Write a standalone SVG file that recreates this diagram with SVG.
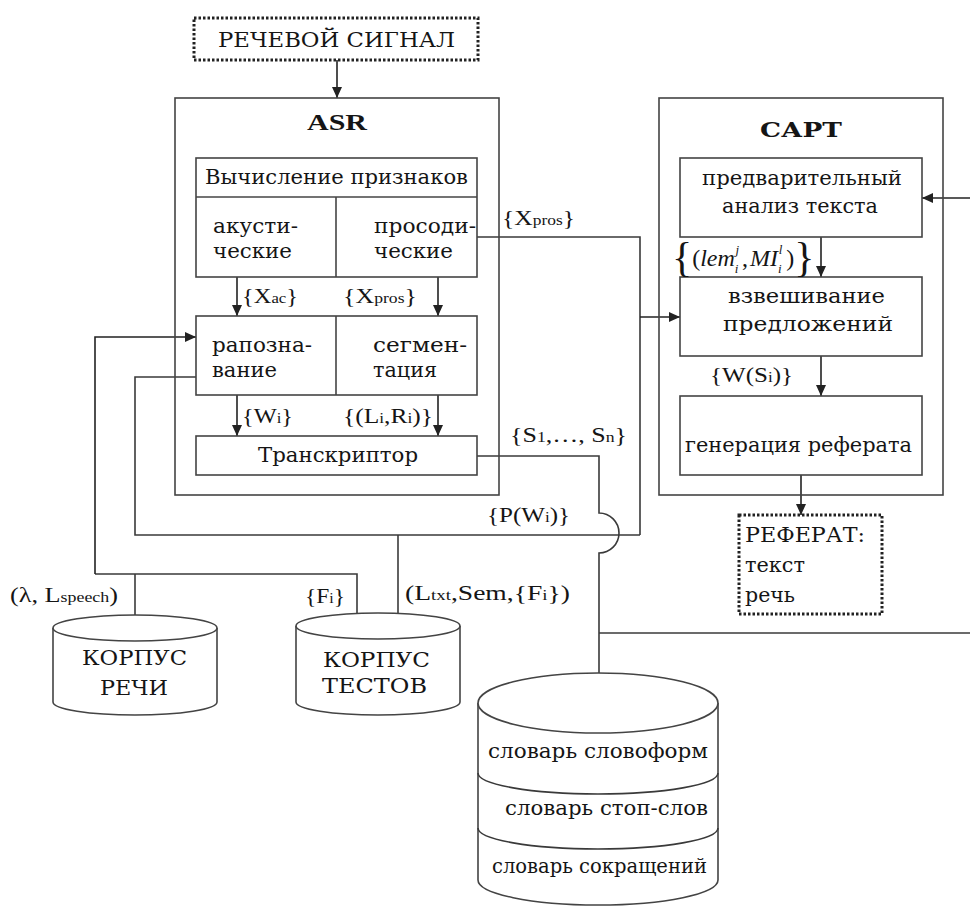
<svg xmlns="http://www.w3.org/2000/svg" width="970" height="907" viewBox="0 0 970 907" font-family="'Liberation Serif', 'Times New Roman', serif">
<defs>
<marker id="ah" markerUnits="userSpaceOnUse" markerWidth="12" markerHeight="10" refX="11" refY="5" orient="auto"><path d="M0,0 L11,5 L0,10 z" fill="#222"/></marker>
<style>
text{font-family:'Liberation Serif','DejaVu Serif',serif;fill:#151515;font-size:24px}
.cy{font-family:'DejaVu Serif','Liberation Serif',serif;font-size:21px}
.b{font-weight:bold}
.s{font-size:22px}
.sub{font-size:15px}
.it{font-style:italic}
.box{fill:none;stroke:#444;stroke-width:1.6}
.dot{fill:none;stroke:#222;stroke-width:3;stroke-dasharray:2.5 2}
.ln{fill:none;stroke:#3a3a3a;stroke-width:1.6}
.arr{fill:none;stroke:#222;stroke-width:1.6;marker-end:url(#ah)}
.cyl{fill:#fff;stroke:#444;stroke-width:1.6}
</style>
</defs>
<rect width="970" height="907" fill="#fff"/>

<g id="connectors">
<line class="arr" x1="337" y1="60" x2="337" y2="98"/>
<line class="arr" x1="237" y1="277" x2="237" y2="316"/>
<line class="arr" x1="438" y1="277" x2="438" y2="316"/>
<line class="arr" x1="237" y1="395" x2="237" y2="436"/>
<line class="arr" x1="438" y1="395" x2="438" y2="436"/>
<polyline class="ln" points="477,237 640,237 640,535"/>
<line class="arr" x1="640" y1="317" x2="680" y2="317"/>
<polyline class="ln" points="640,535 135,535 135,377 196,377"/>
<line class="ln" x1="398" y1="535" x2="398" y2="614"/>
<line class="ln" x1="135" y1="615" x2="135" y2="574"/>
<polyline class="ln" points="95,574 357,574 357,614"/>
<polyline class="arr" points="95,574 95,337 196,337"/>
<path class="ln" d="M477,456 L599,456 L599,513 A20,20 0 0 1 599,553 L599,673"/>
<line class="ln" x1="599" y1="633" x2="970" y2="633"/>
<line class="arr" x1="970" y1="198" x2="922" y2="198"/>
<line class="arr" x1="821" y1="237" x2="821" y2="277"/>
<line class="arr" x1="821" y1="356" x2="821" y2="396"/>
<line class="arr" x1="801" y1="475" x2="801" y2="515"/>
</g>

<g id="speech-signal">
<rect class="dot" x="194" y="18" width="284" height="42"/>
<text class="cy" x="218" y="47" font-size="22" textLength="237" lengthAdjust="spacingAndGlyphs">РЕЧЕВОЙ СИГНАЛ</text>
</g>

<g id="asr">
<rect class="box" x="175" y="98" width="324" height="397"/>
<text class="b" x="307" y="130" font-size="29" textLength="60" lengthAdjust="spacingAndGlyphs">ASR</text>
</g>

<g id="features">
<rect class="box" x="196" y="158" width="281" height="119"/>
<line class="box" x1="196" y1="197" x2="477" y2="197"/>
<line class="box" x1="336" y1="197" x2="336" y2="277"/>
<text class="cy" x="205" y="184" textLength="263" lengthAdjust="spacingAndGlyphs">Вычисление признаков</text>
<text class="cy" x="213" y="233" textLength="85" lengthAdjust="spacingAndGlyphs">акусти-</text>
<text class="cy" x="213" y="258" textLength="79" lengthAdjust="spacingAndGlyphs">ческие</text>
<text class="cy" x="374" y="233" textLength="102" lengthAdjust="spacingAndGlyphs">просоди-</text>
<text class="cy" x="374" y="258" textLength="79" lengthAdjust="spacingAndGlyphs">ческие</text>
</g>

<g id="recognition">
<rect class="box" x="196" y="316" width="281" height="79"/>
<line class="box" x1="336" y1="316" x2="336" y2="395"/>
<text class="cy" x="212" y="352" textLength="100" lengthAdjust="spacingAndGlyphs">рапозна-</text>
<text class="cy" x="212" y="377" textLength="65" lengthAdjust="spacingAndGlyphs">вание</text>
<text class="cy" x="373" y="352" textLength="94" lengthAdjust="spacingAndGlyphs">сегмен-</text>
<text class="cy" x="373" y="377" textLength="64" lengthAdjust="spacingAndGlyphs">тация</text>
</g>

<g id="transcriptor">
<rect class="box" x="196" y="436" width="281" height="39"/>
<text class="cy" x="258" y="462" textLength="160" lengthAdjust="spacingAndGlyphs">Транскриптор</text>
</g>

<g id="capt">
<rect class="box" x="659" y="98" width="284" height="397"/>
<text class="cy b" x="760" y="137" font-size="27" textLength="82" lengthAdjust="spacingAndGlyphs">САРТ</text>
</g>

<g id="preanalysis">
<rect class="box" x="680" y="158" width="242" height="79"/>
<text class="cy" x="702" y="185" textLength="200" lengthAdjust="spacingAndGlyphs">предварительный</text>
<text class="cy" x="722" y="213" textLength="156" lengthAdjust="spacingAndGlyphs">анализ текста</text>
</g>

<g id="weighting">
<rect class="box" x="680" y="277" width="242" height="79"/>
<text class="cy" x="728" y="303" textLength="157" lengthAdjust="spacingAndGlyphs">взвешивание</text>
<text class="cy" x="723" y="331" textLength="170" lengthAdjust="spacingAndGlyphs">предложений</text>
</g>

<g id="generation">
<rect class="box" x="680" y="396" width="242" height="79"/>
<text class="cy" x="685" y="452" textLength="227" lengthAdjust="spacingAndGlyphs">генерация реферата</text>
</g>

<g id="summary">
<rect class="dot" x="739" y="515" width="143" height="99"/>
<text class="cy" x="745" y="542" font-size="22" textLength="120" lengthAdjust="spacingAndGlyphs">РЕФЕРАТ:</text>
<text class="cy" x="745" y="572" textLength="60" lengthAdjust="spacingAndGlyphs">текст</text>
<text class="cy" x="745" y="602" textLength="50" lengthAdjust="spacingAndGlyphs">речь</text>
</g>

<g id="speech-corpus">
<path class="cyl" d="M53,628 L53,702 A82,13 0 0 0 217,702 L217,628"/>
<ellipse class="cyl" cx="135" cy="628" rx="82" ry="13"/>
<text class="cy" x="82" y="665" font-size="22" textLength="105" lengthAdjust="spacingAndGlyphs">КОРПУС</text>
<text class="cy" x="100" y="695" font-size="22" textLength="68" lengthAdjust="spacingAndGlyphs">РЕЧИ</text>
</g>

<g id="text-corpus">
<path class="cyl" d="M296,626 L296,702 A82,13 0 0 0 460,702 L460,626"/>
<ellipse class="cyl" cx="378" cy="626" rx="82" ry="13"/>
<text class="cy" x="323" y="667" font-size="22" textLength="107" lengthAdjust="spacingAndGlyphs">КОРПУС</text>
<text class="cy" x="322" y="693" font-size="22" textLength="105" lengthAdjust="spacingAndGlyphs">ТЕСТОВ</text>
</g>

<g id="dictionaries">
<path class="cyl" d="M478,703 L478,880 A120,25 0 0 0 718,880 L718,703"/>
<ellipse class="cyl" cx="598" cy="703" rx="120" ry="30"/>
<path class="ln" d="M478,773 A120,21 0 0 0 718,773"/>
<path class="ln" d="M478,828 A120,21 0 0 0 718,828"/>
<text class="cy" x="488" y="758" textLength="220" lengthAdjust="spacingAndGlyphs">словарь словоформ</text>
<text class="cy" x="505" y="815" textLength="203" lengthAdjust="spacingAndGlyphs">словарь стоп-слов</text>
<text class="cy" x="492" y="873" textLength="215" lengthAdjust="spacingAndGlyphs">словарь сокращений</text>
</g>

<g id="labels">
<text class="s" x="242" y="303" textLength="56" lengthAdjust="spacingAndGlyphs">{X<tspan class="sub">ac</tspan>}</text>
<text class="s" x="343" y="303" textLength="74" lengthAdjust="spacingAndGlyphs">{X<tspan class="sub">pros</tspan>}</text>
<text class="s" x="242" y="423" textLength="51" lengthAdjust="spacingAndGlyphs">{W<tspan class="sub">i</tspan>}</text>
<text class="s" x="343" y="423" textLength="90" lengthAdjust="spacingAndGlyphs">{(L<tspan class="sub">i</tspan>,R<tspan class="sub">i</tspan>)}</text>
<text class="s" x="502" y="225" textLength="73" lengthAdjust="spacingAndGlyphs">{X<tspan class="sub">pros</tspan>}</text>
<text class="s" x="510" y="442" textLength="117" lengthAdjust="spacingAndGlyphs">{S<tspan class="sub">1</tspan>,…, S<tspan class="sub">n</tspan>}</text>
<text class="s" x="487" y="522" textLength="83" lengthAdjust="spacingAndGlyphs">{P(W<tspan class="sub">i</tspan>)}</text>
<text class="s" x="405" y="600" textLength="165" lengthAdjust="spacingAndGlyphs">(L<tspan class="sub">txt</tspan>,Sem,{F<tspan class="sub">i</tspan>})</text>
<text class="s" x="305" y="603" textLength="40" lengthAdjust="spacingAndGlyphs">{F<tspan class="sub">i</tspan>}</text>
<text class="s" x="10" y="602" textLength="108" lengthAdjust="spacingAndGlyphs">(λ, L<tspan class="sub">speech</tspan>)</text>
<text class="s" x="710" y="382" textLength="83" lengthAdjust="spacingAndGlyphs">{W(S<tspan class="sub">i</tspan>)}</text>
<text x="672" y="271"><tspan font-size="42">{</tspan><tspan dy="-5">(</tspan><tspan class="it">lem</tspan><tspan class="it" font-size="13" dy="7">i</tspan><tspan class="it" font-size="13" dx="-3" dy="-19">j</tspan><tspan dx="3" dy="12">,</tspan><tspan class="it" dx="2">MI</tspan><tspan class="it" font-size="13" dy="7">i</tspan><tspan class="it" font-size="13" dx="-3" dy="-19">l</tspan><tspan dx="4" dy="12">)</tspan><tspan font-size="42" dy="5">}</tspan></text>
</g>
</svg>
